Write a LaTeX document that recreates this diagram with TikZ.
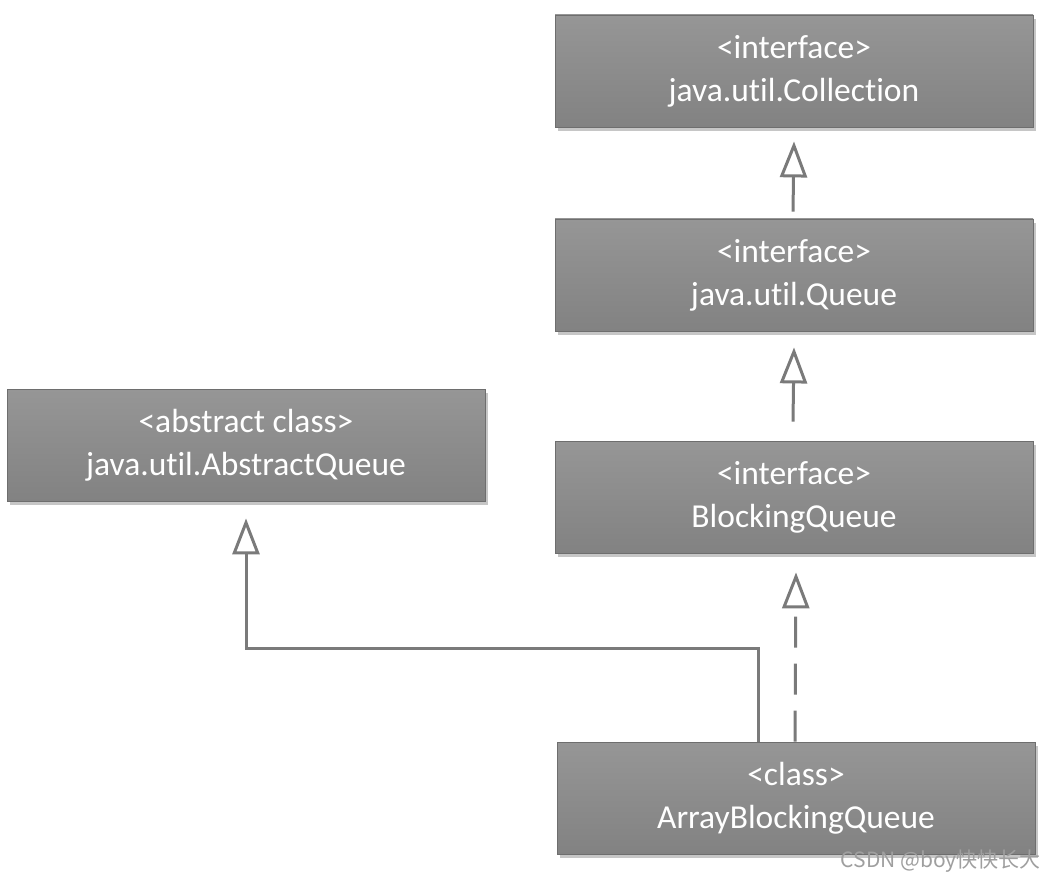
\documentclass[tikz,border=0pt]{standalone}
\usepackage{fontspec}
\setmainfont{Carlito}[Ligatures=NoCommon]
\newfontfamily\cjk{Noto Sans CJK SC}
\usetikzlibrary{arrows.meta,shadows,calc}
\definecolor{boxfill}{HTML}{8C8C8C}
\definecolor{boxtop}{HTML}{969696}
\definecolor{boxbot}{HTML}{828282}
\definecolor{boxline}{HTML}{6E6E6E}
\definecolor{linegray}{HTML}{7A7A7A}
\tikzset{
  umlbox/.style={rectangle, draw=boxline, line width=0.8pt,
    top color=boxtop, bottom color=boxbot,
    minimum width=478pt, minimum height=112pt, inner sep=0pt,
    align=center, text=white, font=\fontsize{33.5}{43}\selectfont,
    drop shadow={opacity=0.45, shadow xshift=3pt, shadow yshift=-4pt}},
  inherit/.style={draw=linegray, line width=3pt,
    -{Triangle[open, length=36pt, width=27pt, line width=3pt]}},
  realize/.style={inherit, dash pattern=on 31pt off 16pt}
}
\begin{document}
\begin{tikzpicture}[x=1pt,y=-1pt]
\useasboundingbox (0,0) rectangle (1057,882);
\node[umlbox] (coll) at (794,71) {<interface>\\java.util.Collection};
\node[umlbox] (queue) at (794,275) {<interface>\\java.util.Queue};
\node[umlbox] (bq) at (794,497) {<interface>\\BlockingQueue};
\node[umlbox] (abs) at (246,445) {<abstract class>\\java.util.AbstractQueue};
\node[umlbox] (abq) at (796,798) {<class>\\ArrayBlockingQueue};
\coordinate (bend) at (246,648);
\draw[inherit] ([xshift=-1pt,yshift=7pt]queue.north) -- ([yshift=-14pt]coll.south);
\draw[inherit] ([xshift=-1pt,yshift=19pt]bq.north) -- ([yshift=-16pt]queue.south);
\draw[realize] ([xshift=-1pt]abq.north) -- ([yshift=-19pt]bq.south -| abq.north);
\draw[inherit] ([xshift=-38pt]abq.north) |- (bend) -- ([yshift=-17pt]abs.south);
\node[anchor=east, text=gray!75, font=\cjk\fontsize{21}{24}\selectfont, inner sep=0pt] (wm) at (1041,861) {CSDN @boy快快长大};
\end{tikzpicture}
\end{document}
